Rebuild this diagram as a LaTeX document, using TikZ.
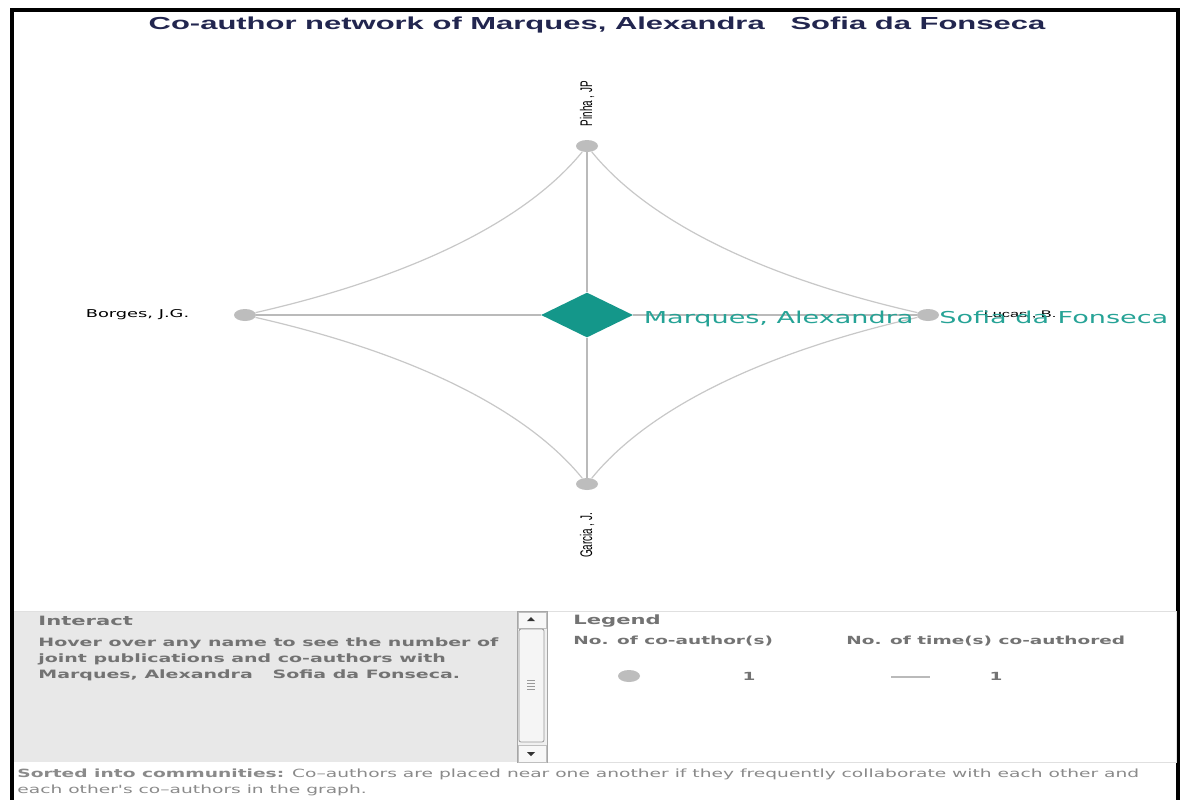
\documentclass[tikz,border=0pt]{standalone}
\usepackage{fontspec}
\setmainfont{DejaVu Sans}
\usetikzlibrary{positioning,shapes.geometric}
% wide browser fonts
\newfontfamily\titlefont[FakeStretch=1.78]{Liberation Sans}
\newfontfamily\panelfont[FakeStretch=1.65]{DejaVu Sans}
\newfontfamily\labelfont[FakeStretch=1.7]{Liberation Sans}
\newfontfamily\upfont[FakeStretch=0.59]{Liberation Sans}
\definecolor{hub}{HTML}{14978A}
\definecolor{hubtext}{HTML}{26A396}
\definecolor{dot}{HTML}{BDBDBD}
\definecolor{edge}{HTML}{C8C8C8}
\definecolor{navy}{HTML}{22264F}
\definecolor{panel}{HTML}{E8E8E8}
\definecolor{paneltext}{HTML}{737373}
\definecolor{note}{HTML}{8A8A8A}

\begin{document}
\begin{tikzpicture}[x=0.5pt, y=-0.5pt,
  coauthor/.style={ellipse, fill=dot, minimum width=11pt, minimum height=6pt, inner sep=0pt},
  link/.style={draw=edge, line width=0.6pt},
  person/.style={inner sep=0pt, font=\labelfont\fontsize{4.8pt}{6pt}\selectfont},
  upname/.style={inner sep=0pt, rotate=90, font=\upfont\fontsize{8.4pt}{10pt}\selectfont},
  head/.style={anchor=west, inner sep=0pt, text=paneltext, font=\panelfont\bfseries\fontsize{6.4pt}{8pt}\selectfont},
  paneltxt/.style={anchor=west, inner sep=0pt, text=paneltext, font=\panelfont\bfseries\fontsize{5.6pt}{8pt}\selectfont}]
\fill[white] (0,0) rectangle (1187,799);
\useasboundingbox (0,0) rectangle (1187,799);
\draw[line width=2pt] (12,830) -- (12,10) -- (1178,10) -- (1178,830);
\node[text=navy, font=\titlefont\bfseries\fontsize{8.7pt}{10pt}\selectfont] (title) at (597,25) {Co-author network of Marques, Alexandra\ \ \ Sofia da Fonseca};

% the graph
\node[coauthor] (pinha) at (587,146) {};
\node[coauthor] (borges) at (245,315) {};
\node[coauthor] (lucas) at (928,315) {};
\node[coauthor] (garcia) at (587,484) {};
\node[diamond, fill=hub, minimum width=46pt, minimum height=22.5pt, inner sep=0pt] (marques) at (587,315) {};
\foreach \n in {pinha,borges,lucas,garcia} \draw[link, draw=black!27] (marques) -- (\n);
\foreach \a/\b/\p/\q in {borges/pinha/{167,-38}/{-61,75}, pinha/lucas/{61,75}/{-167,-38}, borges/garcia/{167,38}/{-61,-75}, garcia/lucas/{61,-75}/{-167,38}}
  \draw[link] (\a) .. controls +(\p) and +(\q) .. (\b);
\node[upname, anchor=west] (pinha label) at ([yshift=6.5pt]pinha.north) {Pinha , JP};
\node[upname, anchor=east] (garcia label) at ([yshift=-11pt]garcia.south) {Garcia , J.};
\node[person, font=\panelfont\fontsize{5.4pt}{6pt}\selectfont, left=22pt of borges] (borges label) {Borges, J.G.};
\node[person, right=22pt of lucas] (lucas label) {Lucas , B.};
\node[right=5pt of marques, yshift=-2pt, inner sep=0pt, text=hubtext, font=\panelfont\fontsize{8.2pt}{10pt}\selectfont] (marques label) {Marques, Alexandra\ \ \ Sofia da Fonseca};

% interact panel with its scroll bar
\fill[panel] (14,611) rectangle (517,762);
\draw[black!12] (14,611) -- (1176,611);
\draw[black!12] (547,611) rectangle (1176,762);
\draw[black!35, fill=black!6] (517,611) rectangle (547,762);
\draw[black!25, fill=black!3] (518,612) rectangle (546,628);
\fill[black!80] (527,621) -- (535,621) -- (531,617) -- cycle;
\draw[black!40, fill=black!4, rounded corners=1pt] (519,629) rectangle (544,742);
\foreach \y in {680,683,686,689} \draw[black!40, line width=0.3pt] (527,\y) -- (535,\y);
\draw[black!25, fill=black!3] (518,745) rectangle (546,762);
\fill[black!80] (527,752) -- (535,752) -- (531,756) -- cycle;
\node[head] (interact) at (38,621) {Interact};
\node[paneltxt, anchor=north west, align=left, font=\panelfont\bfseries\fontsize{5.75pt}{8pt}\selectfont] (hover) at (38,637) {Hover over any name to see the number of\\joint publications and co-authors with\\Marques, Alexandra\ \ \ Sofia da Fonseca.};

% legend
\node[head] (legend) at (573,621) {Legend};
\node[paneltxt] (count) at (573,641) {No. of co-author(s)};
\node[paneltxt] (times) at (846,641) {No. of time(s) co-authored};
\node[coauthor] (key dot) at (629,676) {};
\node[paneltxt, anchor=center] (count one) at (749,676) {1};
\coordinate (key from) at (891,677);
\coordinate (key to) at (930,677);
\draw[link, draw=black!27] (key from) -- (key to);
\node[paneltxt, anchor=center] (times one) at (996,676) {1};

\node[anchor=north west, inner sep=0pt, align=left, text=note, font=\panelfont\fontsize{5.65pt}{8pt}\selectfont] (note) at (17,768) {\textbf{Sorted into communities:} Co–authors are placed near one another if they frequently collaborate with each other and\\each other's co–authors in the graph.};
\end{tikzpicture}
\end{document}
